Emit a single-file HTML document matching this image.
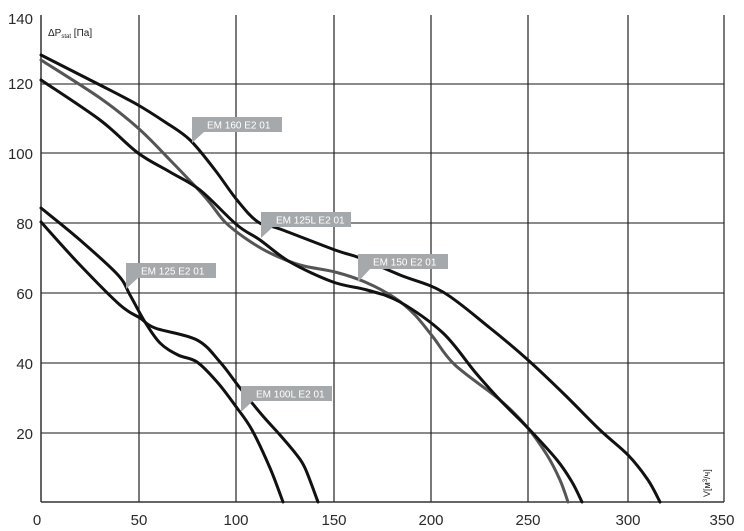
<!DOCTYPE html>
<html><head><meta charset="utf-8"><style>
body{margin:0;background:#fff;}
svg{display:block;font-family:"Liberation Sans","DejaVu Sans",sans-serif;}
</style></head><body>
<svg id="s" width="744" height="531" viewBox="0 0 744 531">
<g stroke="#444" stroke-width="1.2">
<line x1="41" y1="433" x2="724" y2="433"/><line x1="41" y1="363" x2="724" y2="363"/>
<line x1="41" y1="293" x2="724" y2="293"/><line x1="41" y1="223" x2="724" y2="223"/>
<line x1="41" y1="153" x2="724" y2="153"/><line x1="41" y1="84" x2="724" y2="84"/>
</g>
<g stroke="#222" stroke-width="1.2">
<line x1="139" y1="15" x2="139" y2="502"/><line x1="236" y1="15" x2="236" y2="502"/>
<line x1="334" y1="15" x2="334" y2="502"/><line x1="431" y1="15" x2="431" y2="502"/>
<line x1="528" y1="15" x2="528" y2="502"/><line x1="628" y1="15" x2="628" y2="502"/>
<line x1="724" y1="15" x2="724" y2="502"/>
</g>
<g stroke="#333" stroke-width="1.5"><line x1="41" y1="15" x2="41" y2="502"/><line x1="41" y1="502" x2="724" y2="502"/></g>
<g fill="none" stroke-width="3" stroke-linejoin="round" stroke-linecap="round">
<path id="g" stroke="#555" d=""/>
<path id="a" stroke="#111" d=""/>
<path id="c" stroke="#111" d=""/>
<path id="d" stroke="#111" d=""/>
<path id="e" stroke="#111" d=""/>
</g>
<g fill="#a6a9ab">
<rect x="192" y="117" width="90" height="15"/><polygon points="192,131 192,143 205,131"/>
<rect x="261" y="212" width="90" height="15"/><polygon points="261,226 261,238 274,226"/>
<rect x="358" y="254" width="90" height="15"/><polygon points="358,268 358,282 371,268"/>
<rect x="126" y="263" width="90" height="15"/><polygon points="126,277 126,289 139,277"/>
<rect x="241" y="386" width="91" height="15"/><polygon points="241,400 241,412 254,400"/>
</g>
<g fill="#fff" font-size="10">
<text x="207" y="128.5">EM 160 E2 01</text>
<text x="276" y="223.5">EM 125L E2 01</text>
<text x="373" y="265.5">EM 150 E2 01</text>
<text x="141" y="274.5">EM 125 E2 01</text>
<text x="256" y="397.5">EM 100L E2 01</text>
</g>
<g fill="#2a2a2a" font-size="15" text-anchor="end">
<text x="33" y="24">140</text><text x="33" y="89">120</text><text x="33" y="159">100</text>
<text x="33" y="229">80</text><text x="33" y="299">60</text><text x="33" y="369">40</text><text x="33" y="439">20</text>
</g>
<g fill="#2a2a2a" font-size="15" text-anchor="middle">
<text x="37" y="525">0</text><text x="139" y="525">50</text><text x="236" y="525">100</text>
<text x="334" y="525">150</text><text x="431" y="525">200</text><text x="528" y="525">250</text>
<text x="628" y="525">300</text><text x="722" y="525">350</text>
</g>
<text x="48" y="36" font-size="10" fill="#222">ΔP<tspan font-size="6" dy="2">stat</tspan><tspan dy="-2"> [Па]</tspan></text>
<text transform="translate(710,497) rotate(-90)" font-size="9" fill="#222">V[м<tspan font-size="6" dy="-3">3</tspan><tspan dy="3">/ч]</tspan></text>
</svg>
<script>
function cr(p){var d="M"+p[0][0]+","+p[0][1];for(var i=0;i<p.length-1;i++){var p0=p[i-1]||p[i],p1=p[i],p2=p[i+1],p3=p[i+2]||p2;
d+=" C"+(p1[0]+(p2[0]-p0[0])/6).toFixed(1)+","+(p1[1]+(p2[1]-p0[1])/6).toFixed(1)+" "+(p2[0]-(p3[0]-p1[0])/6).toFixed(1)+","+(p2[1]-(p3[1]-p1[1])/6).toFixed(1)+" "+p2[0]+","+p2[1];}return d;}
var P={
g:[[41,60],[100,98],[138,128],[170,160],[205,197],[225,222],[245,238],[270,253],[300,265],[335,272],[365,282],[395,298],[415,315],[433,337],[455,365],[500,400],[527,427],[547,455],[560,480],[568,502]],
a:[[41,55],[100,85],[138,105],[165,122],[190,140],[215,170],[237,200],[258,222],[280,229],[335,250],[360,258],[400,275],[443,292],[490,328],[528,360],[565,395],[600,430],[628,455],[648,480],[660,502]],
c:[[41,80],[100,120],[138,153],[170,172],[200,190],[237,225],[260,240],[290,262],[333,282],[367,290],[400,302],[443,333],[475,372],[500,400],[528,428],[557,460],[572,482],[582,502]],
d:[[41,208],[80,240],[118,275],[130,295],[145,322],[160,343],[178,355],[197,362],[218,383],[237,408],[252,430],[270,468],[283,502]],
e:[[41,222],[80,265],[120,305],[140,318],[155,328],[197,340],[220,362],[240,388],[262,415],[280,435],[296,454],[305,468],[318,502]]};
for(var k in P)document.getElementById(k).setAttribute("d",cr(P[k]));
</script>
</body></html>
